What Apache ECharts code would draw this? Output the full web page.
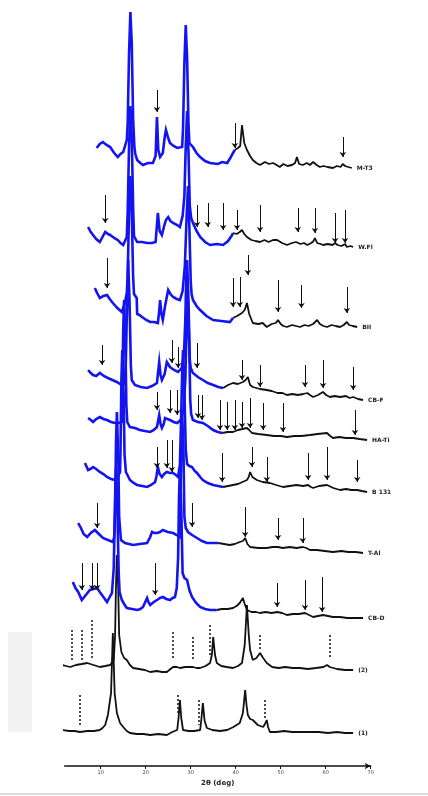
<!DOCTYPE html>
<html><head><meta charset="utf-8">
<script src="https://cdn.jsdelivr.net/npm/echarts@6/dist/echarts.min.js"></script>
<style>html,body{margin:0;padding:0;background:#fff}#c{width:428px;height:796px}</style>
</head><body><div id="c"></div>
<script>
// Trace names (right-hand labels, top to bottom)
const names = ['M-T3','W.Fl','BII','CB-F','HA-Ti','B 131','T-Al','CB-D','(2)','(1)'];
// Vertical stacking offset of each trace (y units)
const offsets = [598,520,440,366,326,276,214,148,96,33];
// 2θ where the trace colour switches from blue to black (null = all black)
const splits = [39.8,39.4,39.4,37.2,37.0,37.2,36.1,35.8,null,null];
const xTicks = [10,20,30,40,50,60,70];

// [2θ, intensity] for each trace
const t1 = [[9.1,20],[9.8,24],[10.5,26],[11.3,23],[12.1,21],[13.0,15],[13.8,11],[14.4,14],[15.0,16],[15.8,28],[16.0,45],[16.3,115],[16.6,156],[16.9,125],[17.2,50],[17.5,20],[17.7,14],[18.1,8],[18.8,5],[19.4,3],[20.5,5],[21.6,5],[22.2,12],[22.5,51],[22.8,18],[23.2,11],[23.8,15],[24.2,30],[24.5,38],[25.0,30],[25.4,25],[26.2,22],[27.0,20],[28.1,21],[28.3,40],[28.6,105],[28.9,143],[29.2,110],[29.5,45],[29.7,25],[30.5,21],[31.3,15],[32.1,11],[33.2,7],[34.3,5],[36.0,4],[37.0,6],[38.1,5],[38.8,10],[39.4,15],[39.8,18],[40.5,20],[41.0,22],[41.4,43],[41.9,25],[42.5,18],[43.2,12],[43.8,8],[44.6,5],[45.4,3],[46.5,6],[47.4,4],[48.3,5],[49.1,3],[49.8,1],[50.6,4],[51.5,2],[52.5,3],[53.2,5],[53.6,11],[54.1,4],[54.9,3],[55.8,5],[56.5,3],[57.2,6],[58.0,3],[58.7,1],[59.5,2],[60.4,1],[61.6,0],[62.5,2],[63.3,1],[63.8,4],[64.3,2],[65.0,1],[65.8,0]];
const t2 = [[7.2,19],[7.8,14],[8.3,11],[9.0,7],[9.8,4],[10.4,9],[11.0,14],[11.6,12],[12.1,11],[13.0,8],[13.8,6],[14.4,3],[15.0,1],[15.8,9],[16.0,35],[16.3,100],[16.6,140],[16.9,110],[17.2,40],[17.4,10],[18.1,4],[19.2,4],[20.3,3],[21.4,3],[22.2,4],[22.7,33],[23.1,15],[23.6,11],[24.1,20],[24.5,26],[25.0,29],[25.5,25],[26.1,23],[27.0,21],[27.6,19],[28.2,30],[28.6,50],[28.9,100],[29.2,135],[29.5,95],[29.8,40],[30.1,28],[30.5,23],[31.3,15],[32.1,9],[33.2,4],[34.3,1],[35.8,2],[37.2,1],[38.3,5],[39.2,11],[39.4,13],[40.2,12],[40.9,14],[41.4,16],[41.9,12],[42.5,9],[43.5,6],[44.4,5],[45.4,4],[46.4,6],[47.3,4],[48.3,6],[49.2,6],[50.3,3],[51.4,1],[52.5,3],[53.4,4],[53.8,6],[54.4,2],[55.2,3],[55.9,1],[56.8,3],[57.3,5],[57.6,8],[58.1,3],[58.9,2],[59.4,1],[60.5,2],[61.5,1],[62.1,3],[62.6,1],[63.5,0],[64.3,2],[64.7,-1],[65.5,0],[66.1,-1]];
const t3 = [[8.7,38],[9.2,33],[9.8,28],[10.6,30],[11.4,31],[12.0,27],[12.7,23],[13.7,18],[14.7,14],[15.3,22],[15.8,33],[16.0,50],[16.3,115],[16.6,150],[16.9,115],[17.2,50],[17.4,32],[17.8,30],[18.0,28],[18.1,12],[18.6,11],[19.2,9],[20.1,6],[21.0,4],[21.9,4],[22.7,3],[23.0,15],[23.2,26],[23.5,12],[23.8,6],[24.3,20],[25.0,36],[25.5,32],[26.1,29],[26.9,27],[27.6,26],[28.2,35],[28.7,60],[29.1,110],[29.4,140],[29.7,100],[30.0,45],[30.2,32],[30.5,26],[31.3,20],[32.1,16],[33.5,10],[35.0,6],[36.8,5],[38.7,4],[39.4,8],[40.3,10],[41.4,13],[42.0,16],[42.5,23],[43.0,12],[43.8,3],[45.0,2],[46.0,3],[46.9,-1],[48.0,2],[48.9,3],[49.4,6],[50.0,2],[50.6,0],[51.4,-1],[52.5,1],[53.4,0],[54.3,-1],[55.3,1],[56.2,0],[57.2,2],[57.6,4],[58.1,6],[58.7,2],[59.5,0],[60.3,-1],[61.3,1],[62.2,0],[63.2,-1],[64.0,1],[64.7,4],[65.2,1],[66.0,0],[67.0,-1]];
const t4 = [[7.2,30],[7.8,27],[8.3,25],[9.0,24],[9.8,27],[10.7,24],[11.6,22],[12.6,20],[13.6,18],[14.3,16],[15.0,15],[15.4,20],[15.6,40],[15.9,105],[16.1,140],[16.4,100],[16.7,35],[16.9,20],[17.6,15],[18.9,13],[20.3,12],[21.4,14],[22.5,17],[23.0,38],[23.3,25],[23.6,20],[24.2,26],[24.7,38],[25.0,36],[25.4,33],[26.3,30],[27.2,28],[28.0,32],[28.5,45],[28.8,80],[29.0,120],[29.2,140],[29.5,100],[29.8,40],[30.0,32],[30.5,27],[31.6,23],[32.7,20],[33.8,17],[35.0,15],[36.1,13],[37.2,12],[38.3,15],[39.4,17],[40.5,16],[41.6,18],[42.2,20],[42.7,23],[43.2,15],[43.8,13],[45.4,11],[46.9,10],[48.0,9],[49.3,7],[50.4,7],[51.4,5],[52.6,6],[53.8,5],[55.0,6],[55.9,7],[56.5,5],[57.2,3],[58.3,5],[59.4,8],[60.1,5],[60.9,3],[62.0,4],[63.2,3],[64.5,4],[65.3,2],[66.1,3],[67.2,1],[68.3,0]];
const t5 = [[7.2,22],[7.8,20],[8.3,18],[9.0,21],[9.8,23],[10.6,21],[11.4,20],[12.3,18],[13.2,17],[14.0,17],[14.7,18],[14.8,40],[15.0,110],[15.2,140],[15.5,95],[15.7,35],[15.9,18],[16.5,13],[17.6,12],[18.7,10],[19.8,9],[21.0,8],[21.8,10],[22.5,13],[23.0,25],[23.3,16],[23.6,12],[24.0,16],[24.3,22],[24.8,21],[25.4,20],[26.2,18],[27.0,17],[27.8,20],[28.4,30],[28.8,60],[29.1,115],[29.4,140],[29.7,90],[29.9,40],[30.1,26],[30.5,20],[31.6,18],[32.7,17],[33.8,14],[35.0,10],[36.0,8],[37.0,7],[38.2,8],[39.4,8],[40.5,10],[41.5,11],[42.5,12],[43.0,10],[43.6,7],[45.0,6],[46.9,5],[48.5,4],[50.0,4],[51.4,3],[53.0,4],[54.6,4],[56.5,5],[58.2,6],[60.3,7],[61.0,4],[61.6,2],[63.0,3],[64.5,2],[66.1,2],[67.5,1],[69.2,0]];
const t6 = [[6.5,27],[7.2,20],[7.7,21],[8.3,23],[9.0,21],[9.8,18],[10.6,16],[11.4,13],[12.3,11],[13.2,10],[13.8,13],[14.3,18],[14.4,40],[14.6,110],[14.8,140],[15.1,95],[15.3,35],[15.6,18],[16.5,10],[17.3,7],[18.1,5],[19.2,4],[20.3,3],[21.2,5],[22.1,8],[22.4,14],[22.7,23],[23.1,16],[23.6,13],[24.1,16],[24.7,18],[25.4,17],[26.1,17],[26.7,15],[27.2,13],[27.6,25],[27.8,60],[28.1,115],[28.3,140],[28.6,100],[28.9,40],[29.2,26],[29.7,24],[30.3,23],[30.9,19],[31.4,17],[32.1,13],[32.7,10],[33.8,7],[35.0,5],[36.1,4],[37.2,3],[38.3,4],[39.4,5],[40.5,6],[41.5,8],[42.5,10],[42.9,13],[43.2,18],[43.7,13],[44.7,10],[46.0,8],[47.6,7],[49.0,5],[50.5,3],[52.0,4],[53.5,5],[55.0,4],[56.1,5],[56.7,3],[57.2,2],[58.5,4],[60.3,5],[61.7,2],[63.2,0],[64.5,1],[65.7,0],[67.0,0],[68.0,-1],[69.2,-2]];
const t7 = [[5.0,29],[5.6,24],[6.2,18],[7.0,15],[7.8,19],[8.7,22],[9.6,18],[10.5,14],[11.6,12],[12.7,10],[13.0,15],[13.2,40],[13.4,110],[13.6,140],[13.9,95],[14.1,35],[14.5,12],[15.4,9],[16.3,8],[17.2,7],[18.7,8],[20.3,9],[21.0,15],[21.4,20],[22.0,19],[22.5,19],[23.2,20],[23.8,22],[24.9,20],[26.1,19],[26.9,17],[27.6,15],[27.7,45],[27.9,110],[28.1,140],[28.4,100],[28.6,35],[28.9,24],[29.4,20],[30.3,17],[31.4,14],[32.5,11],[33.6,9],[34.8,9],[36.1,9],[37.4,8],[38.7,7],[39.8,8],[40.9,10],[41.6,11],[42.1,14],[42.6,8],[43.2,5],[45.0,4],[46.9,4],[48.2,5],[49.4,5],[50.5,4],[52.0,5],[53.5,4],[54.9,5],[55.7,4],[56.5,2],[58.0,2],[59.8,1],[61.6,0],[63.5,1],[65.0,0],[66.7,0],[68.3,-1]];
const t8 = [[3.8,36],[4.4,30],[5.0,26],[5.4,22],[5.8,18],[6.7,23],[7.6,28],[8.4,29],[9.2,30],[9.8,26],[10.6,21],[11.4,16],[12.0,21],[12.5,25],[12.9,50],[13.2,120],[13.4,150],[13.7,110],[14.0,45],[14.2,26],[14.7,18],[15.2,14],[15.8,10],[17.0,9],[18.1,8],[18.8,9],[19.4,11],[19.9,16],[20.3,20],[20.6,16],[21.0,13],[21.8,16],[22.5,18],[23.2,20],[23.8,21],[24.6,19],[25.4,18],[26.0,20],[26.5,21],[26.9,30],[27.2,60],[27.4,120],[27.6,150],[27.9,110],[28.2,45],[28.6,40],[29.2,38],[29.7,28],[30.3,21],[31.2,15],[32.1,11],[33.2,9],[34.3,8],[35.0,8],[35.8,8],[36.9,9],[38.2,9],[39.4,10],[40.2,12],[40.9,15],[41.6,20],[42.0,14],[42.5,8],[43.5,6],[44.5,6],[45.4,5],[46.6,6],[48.0,5],[49.2,6],[50.3,5],[51.4,3],[52.7,4],[54.0,4],[55.4,5],[56.3,3],[57.2,1],[58.3,2],[59.4,3],[60.5,2],[61.6,1],[63.2,1],[64.8,0],[66.5,0],[68.3,0]];
const t9 = [[1.4,5],[2.3,4],[3.2,3],[4.5,5],[5.8,6],[7.0,7],[8.4,5],[9.8,3],[11.0,4],[12.1,5],[12.9,10],[13.2,35],[13.4,85],[13.6,115],[13.9,80],[14.1,35],[14.6,18],[15.2,12],[15.8,10],[16.5,5],[17.2,2],[18.5,1],[19.8,0],[21.0,-2],[22.5,-1],[23.6,-2],[24.7,-2],[25.5,1],[26.1,3],[26.9,3],[27.6,2],[28.8,3],[30.5,3],[31.3,2],[32.1,2],[33.3,4],[34.3,7],[34.7,15],[35.0,33],[35.4,15],[35.8,7],[36.8,4],[38.0,3],[39.4,2],[40.5,4],[41.4,7],[42.0,25],[42.5,65],[42.9,35],[43.2,20],[43.8,10],[44.6,12],[45.4,17],[46.1,12],[46.9,7],[48.1,3],[49.5,2],[51.0,3],[52.6,2],[54.3,2],[56.0,1],[57.8,2],[59.5,3],[60.3,5],[60.5,7],[60.9,3],[62.5,1],[64.3,0],[66.1,0]];
const t10 = [[1.4,3],[3.0,2],[4.2,2],[5.4,1],[7.0,2],[8.5,2],[9.8,3],[10.4,5],[11.0,8],[11.6,18],[12.3,40],[12.7,100],[13.1,40],[13.6,20],[14.3,10],[15.0,6],[15.8,2],[16.5,0],[18.0,-1],[19.5,-1],[21.0,-2],[22.8,-1],[24.7,-2],[25.9,1],[27.0,3],[27.3,15],[27.6,33],[27.9,15],[28.3,3],[29.5,2],[30.8,2],[32.1,3],[32.4,15],[32.7,30],[33.1,12],[33.6,5],[34.8,3],[36.5,2],[38.1,3],[39.5,6],[40.9,10],[41.6,20],[42.1,43],[42.4,28],[42.7,18],[43.2,14],[43.8,13],[44.9,8],[46.1,6],[46.5,9],[46.9,13],[47.2,6],[47.6,1],[49.0,1],[50.8,2],[52.5,1],[54.3,1],[56.5,1],[58.5,1],[60.5,0],[62.5,1],[64.3,0],[66.1,0]];

// Peak-marker arrows: [2θ, tail intensity, tip intensity]
const a1 = [[22.5,78,56],[39.8,45,20],[63.8,31,11]];
const a2 = [[11.0,51,23],[31.4,41,19],[33.8,43,19],[37.2,43,16],[40.3,36,16],[45.4,41,14],[53.8,38,14],[57.6,38,13],[62.1,33,3],[64.3,36,3]];
const a3 = [[11.4,68,38],[39.4,48,19],[40.9,49,19],[42.7,71,51],[49.4,46,14],[54.6,41,18],[64.7,39,13]];
const a4 = [[10.3,55,35],[25.8,60,37],[27.2,53,32],[31.4,57,32],[41.4,40,20],[45.4,35,13],[55.4,35,13],[59.4,40,12],[66.1,33,10]];
const a5 = [[22.5,48,30],[25.4,50,27],[27.0,50,25],[31.6,45,22],[32.5,45,20],[36.5,40,10],[38.1,38,10],[39.8,40,10],[41.4,38,12],[43.2,42,12],[46.1,37,10],[50.5,37,8],[66.5,30,5]];
const a6 = [[22.5,43,22],[24.7,50,22],[25.8,50,18],[37.0,37,8],[43.6,43,23],[46.9,33,8],[56.1,37,10],[60.3,43,10],[67.0,30,8]];
const a7 = [[9.2,49,24],[30.3,49,25],[42.1,45,15],[49.4,34,12],[54.9,34,9]];
const a8 = [[5.8,55,28],[8.1,55,28],[9.2,55,28],[22.1,55,23],[49.2,35,11],[55.4,38,8],[59.2,41,6]];
// Dotted reflection markers on the two reference patterns: [2θ, top, bottom]
const d9 = [[3.6,40,10],[5.8,40,10],[8.1,50,10],[26.1,38,10],[30.5,33,10],[34.3,45,15],[45.4,35,20],[60.9,35,12]];
const d10 = [[5.4,38,8],[27.2,38,18],[31.8,33,8],[46.5,33,13]];

const traces = [t1,t2,t3,t4,t5,t6,t7,t8,t9,t10];
const arrows = [a1,a2,a3,a4,a5,a6,a7,a8,[],[]];
const dots = [[],[],[],[],[],[],[],[],d9,d10];

const BLUE = '#1414f0', BLACK = '#111';
const series = [];
traces.forEach((tr, i) => {
  const off = offsets[i];
  const pts = tr.map(p => [p[0], p[1] + off]);
  const sp = splits[i];
  let blackPts = pts;
  if (sp !== null) {
    const bluePts = pts.filter(p => p[0] <= sp);
    blackPts = [bluePts[bluePts.length - 1]].concat(pts.filter(p => p[0] > sp));
    series.push({type:'line', data:bluePts, symbol:'none', clip:false, z:3,
      lineStyle:{color:BLUE, width:2.6, join:'miter'}, silent:true});
  }
  series.push({type:'line', name:names[i], data:blackPts, symbol:'none', clip:false, z:2,
    lineStyle:{color:BLACK, width:1.8}, silent:true,
    endLabel:{show:true, formatter:names[i], fontSize:6, fontWeight:'bold', color:'#222', distance:5,
      fontFamily:'DejaVu Sans'}});
});
series.push({type:'lines', coordinateSystem:'cartesian2d', z:5, silent:true,
  symbol:['none','arrow'], symbolSize:[0,5],
  lineStyle:{color:'#111', width:1, opacity:1},
  data: arrows.flatMap((arr,i) => arr.map(a => ({coords:[[a[0], a[1]+offsets[i]],[a[0], a[2]+offsets[i]]]})))
});
series.push({type:'lines', coordinateSystem:'cartesian2d', z:5, silent:true,
  symbol:'none',
  lineStyle:{color:'#111', width:1.5, type:[2,2], opacity:1},
  data: dots.flatMap((arr,i) => arr.map(a => ({coords:[[a[0], a[1]+offsets[i]],[a[0], a[2]+offsets[i]]]})))
});

const chart = echarts.init(document.getElementById('c'), null, {renderer:'canvas'});
chart.setOption({
  animation:false,
  backgroundColor:'#fff',
  grid:{left:64.7, right:57.3, top:0, bottom:30, containLabel:false},
  xAxis:{type:'value', min:2, max:70,
    name:'2θ (deg)', nameLocation:'middle', nameGap:14,
    nameTextStyle:{fontSize:7, fontWeight:'bold', color:'#222', fontFamily:'DejaVu Sans'},
    axisLine:{show:true, lineStyle:{color:'#111', width:1.5}, symbol:['none','arrow'], symbolSize:[5,6]},
    axisTick:{show:true, length:3, inside:false, customValues:xTicks, lineStyle:{color:'#111'}},
    axisLabel:{customValues:xTicks, fontSize:5, color:'#444', margin:4, fontFamily:'DejaVu Sans'},
    splitLine:{show:false}},
  yAxis:{type:'value', min:0, max:766, show:false},
  graphic:[
    {type:'rect', shape:{x:8, y:632, width:24, height:100}, style:{fill:'#f2f2f2'}, silent:true},
    {type:'line', shape:{x1:0, y1:794, x2:428, y2:794}, style:{stroke:'#cfcfcf', lineWidth:1.5}, silent:true}
  ],
  series: series
});
</script></body></html>
